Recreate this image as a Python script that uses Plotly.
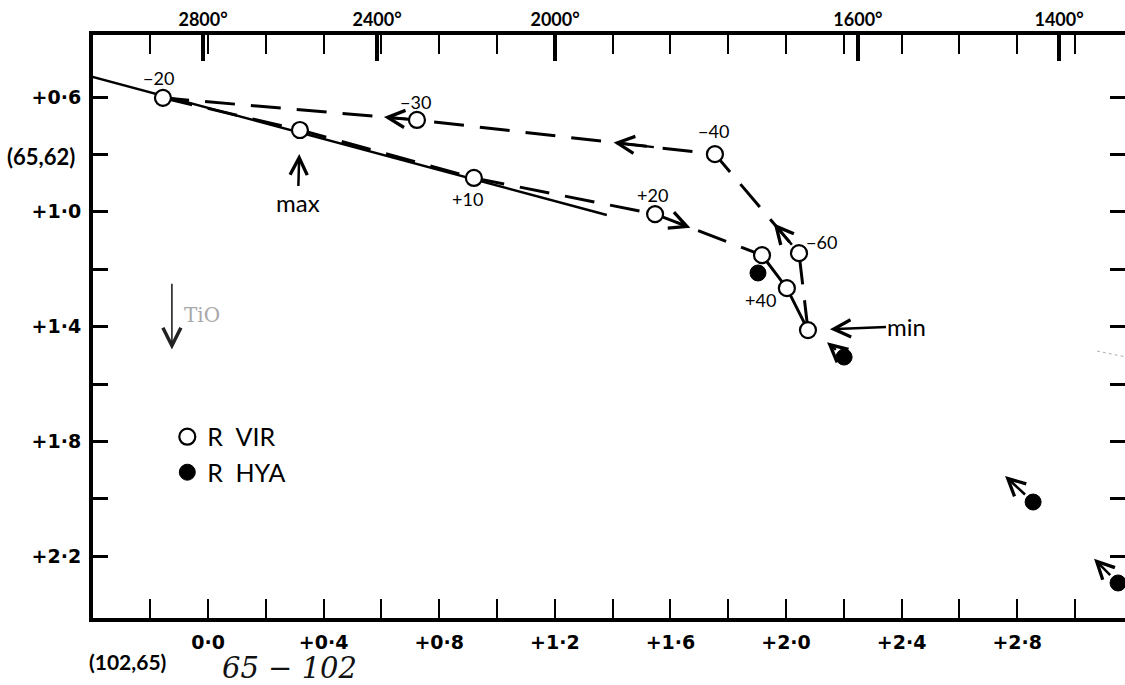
import plotly.graph_objects as go

# Two-colour diagram: (65,62) index against (102,65) index
# R Vir over one cycle, in phase order; the path closes back on the first point
rvir_phase = ["−20", "max", "+10", "+20", "+30", "+40", "min", "−60", "−40", "−30"]
rvir_x = [-0.156, 0.318, 0.920, 1.547, 1.917, 2.003, 2.076, 2.045, 1.754, 0.723]
rvir_y = [0.603, 0.715, 0.882, 1.008, 1.151, 1.266, 1.412, 1.144, 0.799, 0.680]
rvir_label = ["−20", "", "+10", "+20", "", "+40", "", "−60", "−40", "−30"]

# R Hya points and the drift drawn from each one
rhya_x = [1.903, 2.201, 2.855, 3.149]
rhya_y = [1.213, 1.506, 2.011, 2.293]
rhya_dx = [None, -0.059, -0.097, -0.083]
rhya_dy = [None, -0.052, -0.091, -0.084]

# straight reference relation
ref_x = [-0.40, 1.38]
ref_y = [0.530, 1.011]

# axis ticks
x_tickvals = [-0.2, 0.0, 0.2, 0.4, 0.6, 0.8, 1.0, 1.2, 1.4, 1.6, 1.8, 2.0, 2.2, 2.4, 2.6, 2.8, 3.0]
x_ticktext = ["", "0·0", "", "+0·4", "", "+0·8", "", "+1·2", "", "+1·6", "", "+2·0", "", "+2·4", "", "+2·8", ""]
y_tickvals = [0.6, 0.8, 1.0, 1.2, 1.4, 1.6, 1.8, 2.0, 2.2]
y_ticktext = ["+0·6", "", "+1·0", "", "+1·4", "", "+1·8", "", "+2·2"]

# temperature scale along the top edge
temp_vals = [-0.017, 0.585, 1.201, 2.249, 2.945]
temp_text = ["2800°", "2400°", "2000°", "1600°", "1400°"]

X_RANGE = [-0.398, 3.173]
Y_RANGE = [2.415, 0.384]
FONT = "Lato"
TICK_FONT = "DejaVu Sans"
INK = "black"

# path pieces: dashed outward, solid near minimum, dashed return
DASHED_A = [0, 1, 2, 3, 4]
SOLID_B = [4, 5, 6]
DASHED_C = [6, 7, 8, 9, 0]
# arrows on path: (segment start index, tip fraction, tail fraction)
PATH_ARROWS = [(3, 0.33, 0.18), (7, 0.30, 0.0), (8, 0.34, 0.20), (9, 0.13, 0.0)]
# label offsets in pixels (dx, dy)
LABEL_SHIFT = {0: (-4, 20), 2: (-6, -21), 3: (-3, 19), 5: (-26, -12), 7: (22, 11), 8: (-1, 23), 9: (-1, 18)}
ARROW = dict(arrowhead=5, arrowsize=1.35, arrowwidth=2.5, arrowcolor=INK)

fig = go.Figure()

fig.add_trace(go.Scatter(x=ref_x, y=ref_y, mode="lines",
                         line=dict(color=INK, width=2.5), showlegend=False, hoverinfo="skip"))

dash = "30px,16px"
for idx, style in ((DASHED_A, dash), (SOLID_B, "solid"), (DASHED_C, dash)):
    fig.add_trace(go.Scatter(x=[rvir_x[i] for i in idx], y=[rvir_y[i] for i in idx],
                             mode="lines", line=dict(color=INK, width=3, dash=style),
                             showlegend=False, hoverinfo="skip"))

fig.add_trace(go.Scatter(x=rhya_x, y=rhya_y, mode="markers", name="R\u2002HYA",
                         marker=dict(symbol="circle", size=16, color=INK,
                                     line=dict(color=INK, width=1)),
                         cliponaxis=False))
fig.add_trace(go.Scatter(x=rvir_x, y=rvir_y, mode="markers", name="R\u2002VIR",
                         text=rvir_phase,
                         marker=dict(symbol="circle", size=16, color="white",
                                     line=dict(color=INK, width=2.2)),
                         cliponaxis=False))

# empty trace so the top temperature axis and right tick column are laid out
fig.add_trace(go.Scatter(x=[None], y=[None], xaxis="x2", yaxis="y2",
                         showlegend=False, hoverinfo="skip"))

annotations = []
n = len(rvir_x)
for seg, t_tip, t_tail in PATH_ARROWS:
    a, b = seg, (seg + 1) % n
    dx = rvir_x[b] - rvir_x[a]
    dy = rvir_y[b] - rvir_y[a]
    annotations.append(dict(
        x=rvir_x[a] + t_tip * dx, y=rvir_y[a] + t_tip * dy,
        ax=rvir_x[a] + t_tail * dx, ay=rvir_y[a] + t_tail * dy,
        xref="x", yref="y", axref="x", ayref="y", text="",
        showarrow=True, startstandoff=9 if t_tail == 0 else 0, **ARROW))

for i, lab in enumerate(rvir_label):
    if not lab:
        continue
    sx, sy = LABEL_SHIFT[i]
    annotations.append(dict(x=rvir_x[i], y=rvir_y[i], xref="x", yref="y", text=lab,
                            showarrow=False, xshift=sx, yshift=sy,
                            font=dict(family=FONT, size=18, color=INK)))

# max / min pointers
annotations.append(dict(x=rvir_x[1], y=rvir_y[1], xref="x", yref="y", text="max",
                        showarrow=True, ax=-2, ay=72, standoff=24,
                        font=dict(family=FONT, size=24, color=INK), **ARROW))
annotations.append(dict(x=rvir_x[6], y=rvir_y[6], xref="x", yref="y", text="min",
                        showarrow=True, ax=99, ay=-4, standoff=22,
                        font=dict(family=FONT, size=24, color=INK), **ARROW))

# R Hya drift arrows
for x0, y0, ddx, ddy in zip(rhya_x, rhya_y, rhya_dx, rhya_dy):
    if ddx is None:
        continue
    annotations.append(dict(x=x0 + ddx, y=y0 + ddy, ax=x0, ay=y0,
                            xref="x", yref="y", axref="x", ayref="y", text="",
                            showarrow=True, startstandoff=9, **ARROW))

# hand annotations
annotations.append(dict(x=-0.125, y=1.48, ax=-0.125, ay=1.245,
                        xref="x", yref="y", axref="x", ayref="y", text="",
                        showarrow=True, arrowhead=5, arrowsize=2.2, arrowwidth=1.6,
                        arrowcolor="#222"))
annotations.append(dict(x=-0.125, y=1.36, xref="x", yref="y", text="TiO",
                        showarrow=False, xanchor="left", xshift=10,
                        font=dict(family="DejaVu Serif", size=20, color="#a8a8a8")))

# axis titles
annotations.append(dict(x=0, y=0.791, xref="paper", yref="paper", text="<b>(65,62)</b>",
                        showarrow=False, xanchor="right", yanchor="middle", xshift=-16,
                        font=dict(family=FONT, size=22, color=INK)))
annotations.append(dict(x=0.033, y=-0.075, xref="paper", yref="paper", text="<b>(102,65)</b>",
                        showarrow=False, xanchor="center", yanchor="middle",
                        font=dict(family=FONT, size=21, color=INK)))
annotations.append(dict(x=0.190, y=-0.086, xref="paper", yref="paper", text="<i>65 − 102</i>",
                        showarrow=False, xanchor="center", yanchor="middle",
                        font=dict(family="DejaVu Serif", size=29, color="#111")))

fig.update_layout(
    width=1125, height=685,
    margin=dict(l=93, r=0, t=35, b=67),
    paper_bgcolor="white", plot_bgcolor="white",
    font=dict(family=FONT, color=INK),
    annotations=annotations,
    shapes=[dict(type="line", xref="x", yref="y", x0=3.076, y0=1.485, x1=3.173, y1=1.505,
                 line=dict(color="#b0b0b0", width=1, dash="dot"))],
    legend=dict(x=0.072, y=0.350, xanchor="left", yanchor="top",
                bgcolor="rgba(0,0,0,0)", borderwidth=0, tracegroupgap=0,
                font=dict(family=FONT, size=25, color=INK), traceorder="reversed"),
    xaxis=dict(range=X_RANGE, tickmode="array", tickvals=x_tickvals, ticktext=x_ticktext,
               ticks="inside", ticklen=19, tickwidth=2, tickcolor=INK,
               showline=True, linewidth=4, linecolor=INK, mirror="ticks",
               showgrid=False, zeroline=False, ticklabelstandoff=4,
               tickfont=dict(family=TICK_FONT, size=19, color=INK, weight="bold")),
    xaxis2=dict(range=X_RANGE, overlaying="x", side="top", anchor="y2",
                tickmode="array", tickvals=temp_vals, ticktext=temp_text,
                ticks="inside", ticklen=26, tickwidth=4, tickcolor=INK,
                showline=False, showgrid=False, zeroline=False, ticklabelstandoff=4,
                tickfont=dict(family=FONT, size=18, color=INK, weight="bold")),
    yaxis=dict(range=Y_RANGE, tickmode="array", tickvals=y_tickvals, ticktext=y_ticktext,
               ticks="inside", ticklen=15, tickwidth=3, tickcolor=INK,
               showline=True, linewidth=4, linecolor=INK,
               showgrid=False, zeroline=False, ticklabelstandoff=4,
               tickfont=dict(family=TICK_FONT, size=19, color=INK, weight="bold")),
    yaxis2=dict(range=Y_RANGE, overlaying="y", side="right", anchor="x2",
                tickmode="array", tickvals=y_tickvals, showticklabels=False,
                ticks="inside", ticklen=15, tickwidth=3, tickcolor=INK,
                showline=False, showgrid=False, zeroline=False),
)

fig.write_html("out.html")
